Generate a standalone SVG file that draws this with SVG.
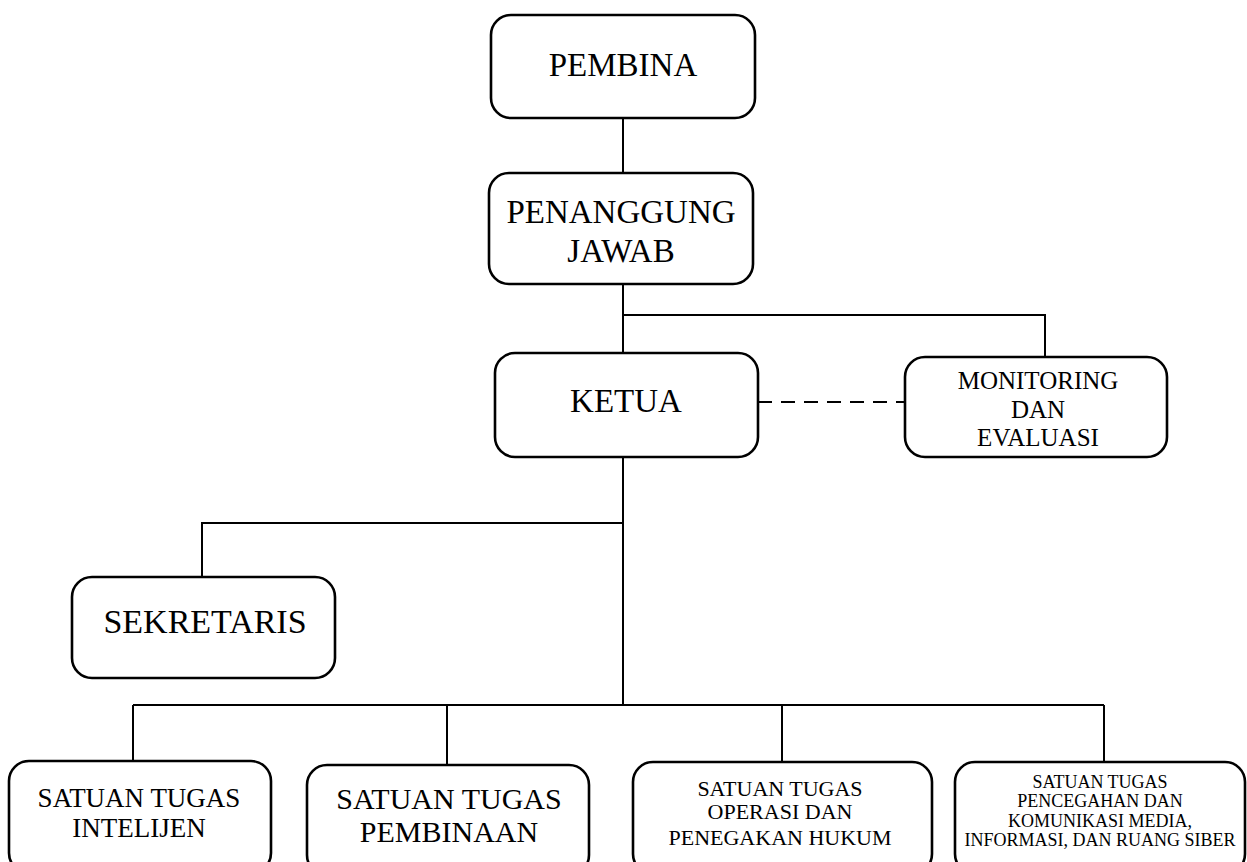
<svg xmlns="http://www.w3.org/2000/svg" width="1247" height="862" viewBox="0 0 1247 862">
<style>
.box{fill:#fff;stroke:#000;stroke-width:2.6}
.ln{fill:none;stroke:#000;stroke-width:2}
.dash{fill:none;stroke:#000;stroke-width:2;stroke-dasharray:14,9}
text{font-family:"Liberation Serif","DejaVu Serif",serif;fill:#000;text-anchor:middle}
</style>
<rect width="1247" height="862" fill="#fff"/>
<g id="connectors">
<line class="ln" x1="623" y1="118" x2="623" y2="174"/>
<line class="ln" x1="623" y1="284" x2="623" y2="352"/>
<polyline class="ln" points="623,315 1045,315 1045,357"/>
<line class="dash" x1="758" y1="402" x2="905" y2="402"/>
<line class="ln" x1="623" y1="457" x2="623" y2="705"/>
<polyline class="ln" points="623,523 202,523 202,577"/>
<line class="ln" x1="133" y1="705" x2="1104" y2="705"/>
<line class="ln" x1="133" y1="705" x2="133" y2="761"/>
<line class="ln" x1="447" y1="705" x2="447" y2="765"/>
<line class="ln" x1="782" y1="705" x2="782" y2="762"/>
<line class="ln" x1="1104" y1="705" x2="1104" y2="762"/>
</g>
<g id="pembina">
<rect class="box" x="491" y="15" width="264" height="103" rx="20"/>
<text x="623" y="76" font-size="33">PEMBINA</text>
</g>
<g id="penanggung-jawab">
<rect class="box" x="489" y="173" width="264" height="111" rx="20"/>
<text x="621" y="223" font-size="33">PENANGGUNG</text>
<text x="621" y="262" font-size="33">JAWAB</text>
</g>
<g id="ketua">
<rect class="box" x="495" y="353" width="263" height="104" rx="20"/>
<text x="626" y="412" font-size="33">KETUA</text>
</g>
<g id="monitoring">
<rect class="box" x="905" y="357" width="262" height="100" rx="20"/>
<text x="1038" y="389" font-size="25">MONITORING</text>
<text x="1038" y="418" font-size="25">DAN</text>
<text x="1038" y="446" font-size="25">EVALUASI</text>
</g>
<g id="sekretaris">
<rect class="box" x="72" y="577" width="263" height="101" rx="20"/>
<text x="205" y="633" font-size="34">SEKRETARIS</text>
</g>
<g id="satgas-intelijen">
<rect class="box" x="9" y="761" width="262" height="112" rx="20"/>
<text x="139" y="807" font-size="27">SATUAN TUGAS</text>
<text x="139" y="837" font-size="27">INTELIJEN</text>
</g>
<g id="satgas-pembinaan">
<rect class="box" x="307" y="765" width="282" height="110" rx="20"/>
<text x="449" y="809" font-size="30">SATUAN TUGAS</text>
<text x="449" y="842" font-size="30">PEMBINAAN</text>
</g>
<g id="satgas-operasi">
<rect class="box" x="633" y="762" width="299" height="112" rx="20"/>
<text x="780" y="796" font-size="22">SATUAN TUGAS</text>
<text x="780" y="819" font-size="22">OPERASI DAN</text>
<text x="780" y="845" font-size="22">PENEGAKAN HUKUM</text>
</g>
<g id="satgas-pencegahan">
<rect class="box" x="955" y="762" width="290" height="112" rx="20"/>
<text x="1100" y="788" font-size="18">SATUAN TUGAS</text>
<text x="1100" y="807" font-size="18">PENCEGAHAN DAN</text>
<text x="1100" y="827" font-size="18">KOMUNIKASI MEDIA,</text>
<text x="1100" y="846" font-size="18">INFORMASI, DAN RUANG SIBER</text>
</g>
</svg>
